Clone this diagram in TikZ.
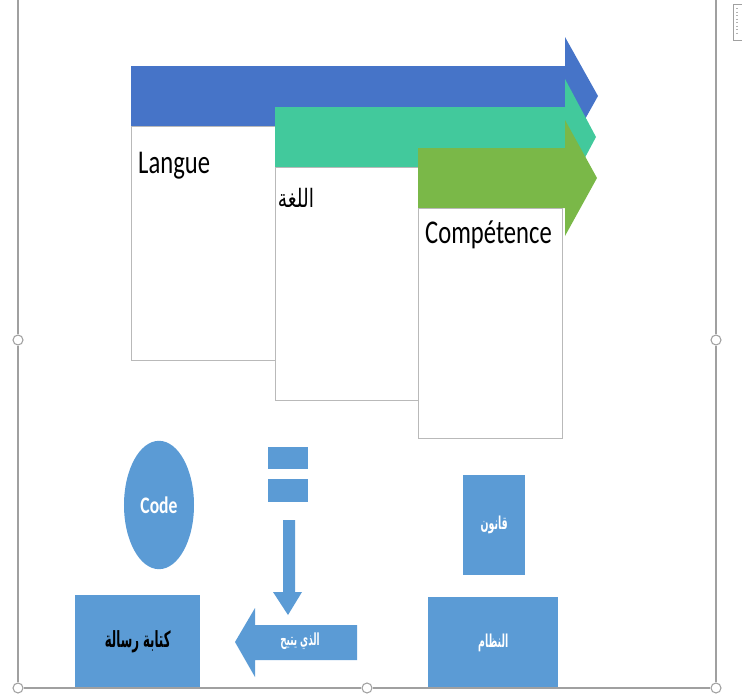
\documentclass[tikz,border=0pt]{standalone}
\usepackage{fontspec}
\setmainfont{Carlito}
\newfontfamily\arabicfont[Script=Arabic]{DejaVu Sans}
\TeXXeTstate=1
\usepackage{graphicx}
\usepackage{tikz}
\usetikzlibrary{positioning, shapes.geometric}
\definecolor{boxblue}{RGB}{91,155,213}
\definecolor{arrblue}{RGB}{70,116,200}
\definecolor{arrteal}{RGB}{66,201,156}
\definecolor{arrgreen}{RGB}{122,184,72}
\definecolor{framegray}{RGB}{160,160,160}
\newcommand{\tallbox}[1]{\scalebox{1}[1.35]{#1}}
\newcommand{\tallarab}[1]{\scalebox{1}[1.9]{\beginR #1\endR}}

\begin{document}
\begin{tikzpicture}[x=0.03cm, y=-0.03cm,
      wbox/.style={rectangle, draw=gray!55, fill=white, anchor=north west, inner sep=0pt},
      bbox/.style={rectangle, fill=boxblue, anchor=north west, inner sep=0pt,
                   text=white, font=\arabicfont\bfseries\fontsize{8}{10}\selectfont},
      lbl/.style={anchor=north west, inner sep=0pt, font=\fontsize{21}{24}\selectfont},
      frameline/.style={draw=framegray, line width=0.9pt},
      handle/.style={circle, draw=framegray, fill=white, line width=0.9pt,
                     minimum size=0.3cm, inner sep=0pt}
    ]
    \useasboundingbox (0,0) rectangle (742,697);

    % top arrows and boxes
    \fill[arrblue] (131,66) -- (565,66) -- (565,37) -- (598,96) -- (565,155) -- (565,126) -- (131,126) -- cycle;
    \node[wbox, minimum width=4.32cm, minimum height=7.02cm] (langue) at (131,126) {};
    \node[lbl, below right=0.78cm and 0.21cm of langue.north west] (languetxt) {\tallbox{Langue}};

    \fill[arrteal] (275,107) -- (565,107) -- (565,79) -- (596,137) -- (565,195) -- (565,167) -- (275,167) -- cycle;
    \node[wbox, minimum width=4.29cm, minimum height=6.99cm] (lugha) at (275,167) {};
    \node[lbl, below right=0.62cm and 0.08cm of lugha.north west, font=\arabicfont\fontsize{16}{18}\selectfont] (lughatxt) {\tallbox{\beginR اللغة\endR}};

    \fill[arrgreen] (418,148) -- (565,148) -- (565,120) -- (597,178) -- (565,236) -- (565,208) -- (418,208) -- cycle;
    \node[wbox, minimum width=4.32cm, minimum height=6.9cm] (comp) at (418,208) {};
    \node[lbl, below right=0.38cm and 0.21cm of comp.north west] (comptxt) {\tallbox{Compétence}};

    % bottom shapes
    \node[ellipse, fill=boxblue, minimum width=2.1cm, minimum height=3.85cm, text=white,
          font=\bfseries\fontsize{15}{18}\selectfont] (code) at (159,505) {\tallbox{Code}};

    \fill[boxblue] (268,447) rectangle (308,469);
    \fill[boxblue] (268,479) rectangle (308,502);
    \fill[boxblue] (283,520) -- (295,520) -- (295,592) -- (302,592) -- (288,615) -- (273,592) -- (283,592) -- cycle;

    \fill[boxblue] (357,625) -- (255,625) -- (255,608) -- (235,642) -- (255,677) -- (255,660) -- (357,660) -- cycle;
    \node[text=white, font=\arabicfont\bfseries\fontsize{7.5}{9}\selectfont] (yutih) at (300,641) {\tallarab{الذي يتيح}};

    \node[bbox, minimum width=1.86cm, minimum height=3cm] (qanun) at (463,475) {\tallarab{قانون}};
    \node[bbox, minimum width=3.9cm, minimum height=2.73cm] (nizam) at (428,597) {\tallarab{النظام}};
    \node[bbox, minimum width=3.75cm, minimum height=2.79cm, text=black,
          font=\arabicfont\bfseries\fontsize{10}{12}\selectfont] (kitaba) at (75,595) {\tallarab{كتابة رسالة}};

    % selection frame
    \coordinate (ftl) at (18,0);
    \coordinate (ftr) at (716,0);
    \node[handle] (hbl) at (18,688) {};
    \node[handle] (hbm) at (367,688) {};
    \node[handle] (hbr) at (716,688) {};
    \node[handle] (hml) at (18,340) {};
    \node[handle] (hmr) at (716,340) {};
    \draw[frameline] (ftl) -- (hml) -- (hbl) -- (hbm) -- (hbr) -- (hmr) -- (ftr);

    \draw[framegray, line width=0.6pt] (733,4) rectangle (745,40);
    \draw[gray!60, dotted, line width=1pt] (737,8) -- (737,34);
  \end{tikzpicture}
\end{document}
